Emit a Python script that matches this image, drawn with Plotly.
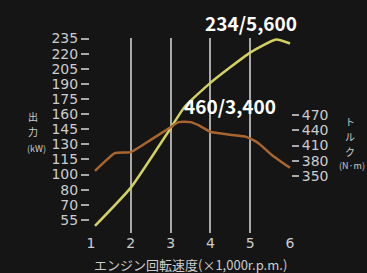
import plotly.graph_objects as go

rpm_power = [1.1, 2.0, 3.0, 3.35, 4.0, 5.0, 5.65, 6.0]
power_kw = [49, 87, 146, 167, 191, 221, 234, 230]

rpm_torque = [1.1, 1.6, 2.0, 2.5, 2.9, 3.2, 3.5, 3.7, 4.0, 4.5, 4.9, 5.2, 5.55, 6.0]
torque_nm = [360, 395, 397, 421, 441, 456, 456, 450, 437, 431, 427, 415, 391, 366]

x_ticks = [1, 2, 3, 4, 5, 6]
left_tickvals = [55, 70, 85, 100, 115, 130, 145, 160, 175, 190, 205, 220, 235]
left_ticktext = ["55", "70", "80", "100", "115", "130", "145", "160", "175", "190", "205", "220", "235"]
right_tickvals = [350, 380, 410, 440, 470]

BG = "#151515"
TXT = "#cccccc"
GRID = "#a9a9a9"
FONT = "DejaVu Sans"
W, H = 367, 273
ML, MR, MT, MB = 90, 76, 38, 40
PW, PH = W - ML - MR, H - MT - MB

fig = go.Figure()
fig.add_trace(go.Scatter(x=rpm_torque, y=torque_nm, yaxis="y2", mode="lines",
                         line=dict(color="#a8652f", width=2.5, shape="spline", smoothing=0.4),
                         showlegend=False, hoverinfo="skip"))
fig.add_trace(go.Scatter(x=rpm_power, y=power_kw, mode="lines",
                         line=dict(color="#d2d060", width=2.5, shape="spline", smoothing=0.5),
                         showlegend=False, hoverinfo="skip"))

fig.update_layout(
    width=W, height=H,
    margin=dict(l=ML, r=MR, t=MT, b=MB),
    paper_bgcolor=BG, plot_bgcolor=BG,
    font=dict(family=FONT, color=TXT, size=14),
    xaxis=dict(range=[0.975, 6.025], tickvals=x_ticks, showgrid=True,
               gridcolor=GRID, gridwidth=1.5, zeroline=False, showline=False,
               ticks="",
               tickfont=dict(family=FONT, size=14, color=TXT)),
    yaxis=dict(range=[42, 235.5], tickvals=left_tickvals, ticktext=left_ticktext,
               showgrid=False, zeroline=False, showline=False,
               ticks="outside", ticklen=8, tickcolor=GRID, tickwidth=1.5,
               tickfont=dict(family=FONT, size=14, color=TXT)),
    yaxis2=dict(range=[237.7, 621.7], overlaying="y", side="right", anchor="x",
                tickvals=right_tickvals, showgrid=False, zeroline=False, showline=False,
                ticks="outside", ticklen=7, tickcolor=GRID, tickwidth=1.5,
                tickfont=dict(family=FONT, size=14, color=TXT)),
)

ann = [
    dict(text="<b>234/5,600</b>", x=251, y=22, size=19, color="#ffffff", anchor="center"),
    dict(text="<b>460/3,400</b>", x=230, y=105, size=19, color="#ffffff", anchor="center"),
    dict(text="出", x=33, y=116, size=10, color=TXT, anchor="center"),
    dict(text="力", x=33, y=131, size=10, color=TXT, anchor="center"),
    dict(text="(kW)", x=36, y=148, size=9, color=TXT, anchor="center"),
    dict(text="ト", x=350, y=121, size=10, color=TXT, anchor="center"),
    dict(text="ル", x=350, y=136, size=10, color=TXT, anchor="center"),
    dict(text="ク", x=350, y=151, size=10, color=TXT, anchor="center"),
    dict(text="(N·m)", x=366, y=165, size=9, color=TXT, anchor="right"),
    dict(text="エンジン回転速度(×1,000r.p.m.)", x=190, y=264, size=13, color=TXT, anchor="center"),
]
for a in ann:
    fig.add_annotation(text=a["text"], xref="paper", yref="paper",
                       x=(a["x"] - ML) / PW, y=1 - (a["y"] - MT) / PH,
                       xanchor=a["anchor"], yanchor="middle", showarrow=False,
                       borderpad=0,
                       font=dict(family="Noto Sans CJK JP", size=a["size"], color=a["color"]))

fig.write_html("out.html", config={"displayModeBar": False},
               post_script="document.body.style.margin='0';")
